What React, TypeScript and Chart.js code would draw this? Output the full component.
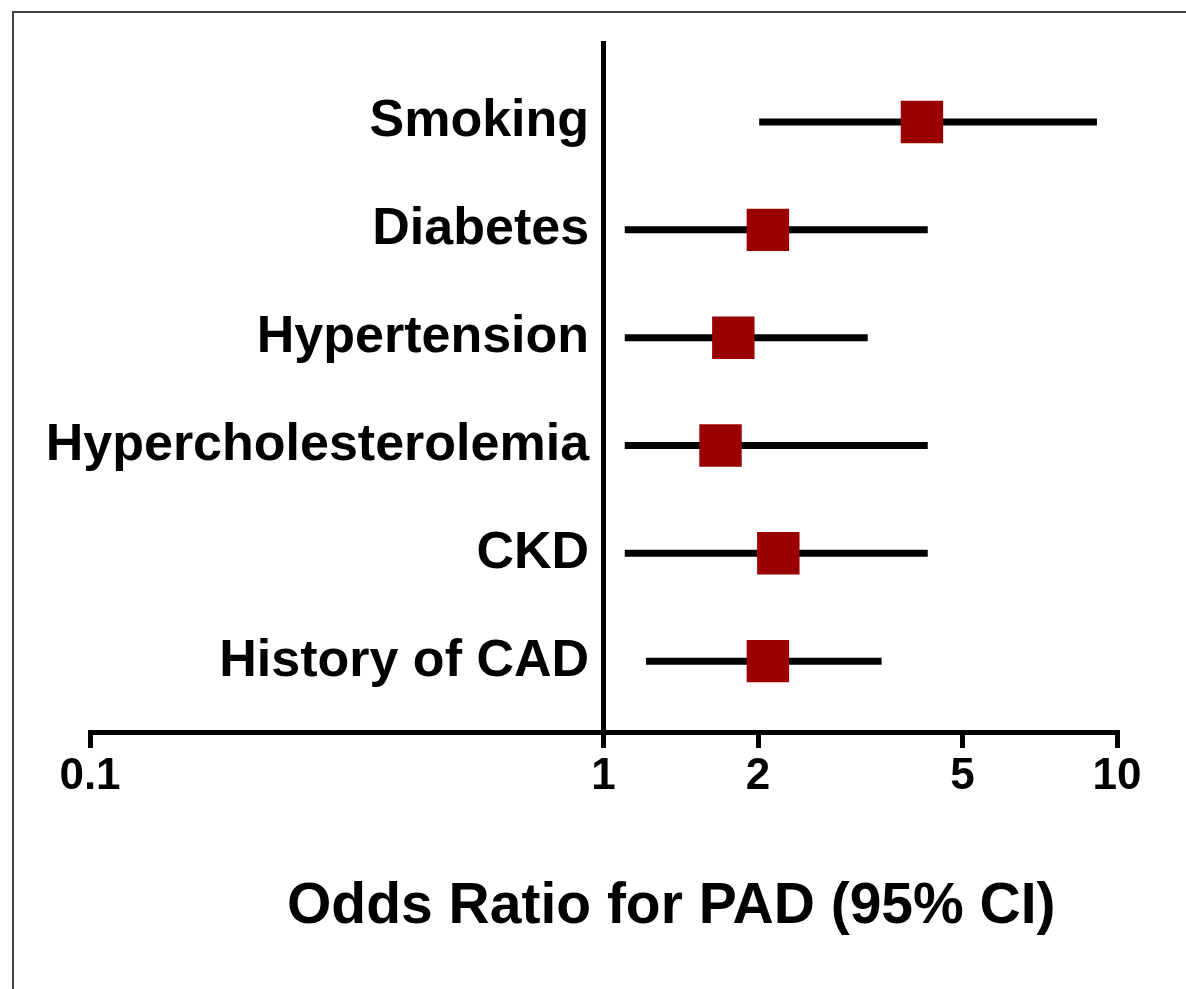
import React, { useEffect, useRef } from "react";
import { Chart, registerables } from "chart.js";

Chart.register(...registerables);

const categories = [
  "Smoking",
  "Diabetes",
  "Hypertension",
  "Hypercholesterolemia",
  "CKD",
  "History of CAD",
];
const oddsRatio = [4.17, 2.09, 1.79, 1.69, 2.19, 2.09];
const lowerCI = [2.01, 1.1, 1.1, 1.1, 1.1, 1.21];
const upperCI = [9.14, 4.28, 3.27, 4.28, 4.28, 3.48];
const xTickValues = [0.1, 1, 2, 5, 10];
const xTitle = "Odds Ratio for PAD (95% CI)";

const FONT = "'Liberation Sans', Arial, Helvetica, sans-serif";

const titlePlugin = {
  id: "bottomTitle",
  afterDraw(chart: any) {
    const ctx = chart.ctx;
    const area = chart.chartArea;
    ctx.save();
    ctx.font = `bold 57px ${FONT}`;
    ctx.fillStyle = "#000";
    ctx.textAlign = "center";
    ctx.textBaseline = "middle";
    ctx.fillText(xTitle, area.left + (area.right - area.left) * 0.566, area.bottom + 175);
    ctx.restore();
  },
};

export default function App() {
  const ref = useRef<HTMLCanvasElement | null>(null);

  useEffect(() => {
    if (!ref.current) return;
    const n = categories.length;
    const rowY = categories.map((_, i) => n - i);

    const whiskers = categories.map((c, i) => ({
      type: "line" as const,
      label: c + " CI",
      data: [
        { x: lowerCI[i], y: rowY[i] },
        { x: upperCI[i], y: rowY[i] },
      ],
      borderColor: "#000",
      borderWidth: 7,
      borderCapStyle: "butt" as const,
      pointRadius: 0,
      order: 2,
    }));

    const chart = new Chart(ref.current, {
      type: "scatter",
      data: {
        datasets: [
          {
            type: "scatter",
            label: "Odds ratio",
            data: categories.map((_, i) => ({ x: oddsRatio[i], y: rowY[i] })),
            pointStyle: "rect",
            pointRadius: 30,
            pointBackgroundColor: "#9b0000",
            pointBorderColor: "#9b0000",
            pointBorderWidth: 0,
            order: 0,
          } as any,
          ...whiskers,
        ],
      },
      options: {
        animation: false,
        responsive: true,
        maintainAspectRatio: false,
        layout: { padding: { left: 90, right: 69, top: 42, bottom: 0 } },
        plugins: {
          legend: { display: false },
          tooltip: { enabled: false },
          title: { display: false },
        },
        scales: {
          x: {
            type: "logarithmic",
            position: "bottom",
            min: 0.1,
            max: 10,
            afterBuildTicks: (scale: any) => {
              scale.ticks = xTickValues.map((v) => ({ value: v }));
            },
            afterFit: (scale: any) => {
              scale.height = 257;
            },
            ticks: {
              autoSkip: false,
              maxRotation: 0,
              padding: 2,
              color: "#000",
              font: { family: FONT, size: 44, weight: "bold" },
              callback: (v: any) => String(v),
            },
            grid: {
              display: true,
              drawOnChartArea: false,
              drawTicks: true,
              tickLength: 16,
              lineWidth: 5,
              color: "#000",
            },
            border: { display: true, width: 5, color: "#000" },
          },
          y: {
            type: "linear",
            position: { x: 1 } as any,
            min: 0.343,
            max: 6.731,
            afterBuildTicks: (scale: any) => {
              scale.ticks = rowY.map((v) => ({ value: v }));
            },
            ticks: {
              autoSkip: false,
              padding: 12,
              color: "#000",
              font: { family: FONT, size: 52, weight: "bold" },
              // trailing space keeps the right-aligned label clear of the axis line
              callback: (v: any) => categories[n - Number(v)] + " ",
            },
            grid: { display: false, drawTicks: false },
            border: { display: true, width: 5, color: "#000" },
          },
        },
      } as any,
      plugins: [titlePlugin],
    });
    return () => chart.destroy();
  }, []);

  return (
    <div style={{ position: "absolute", left: 0, top: 0, width: 1186, height: 989, background: "#fff", overflow: "hidden" }}>
      <div
        style={{
          position: "absolute",
          left: 12,
          top: 11,
          width: 1300,
          height: 1100,
          borderLeft: "2px solid #444",
          borderTop: "2px solid #444",
        }}
      />
      <div style={{ position: "absolute", left: 0, top: 0, width: 1186, height: 989 }}>
        <canvas ref={ref} />
      </div>
    </div>
  );
}
